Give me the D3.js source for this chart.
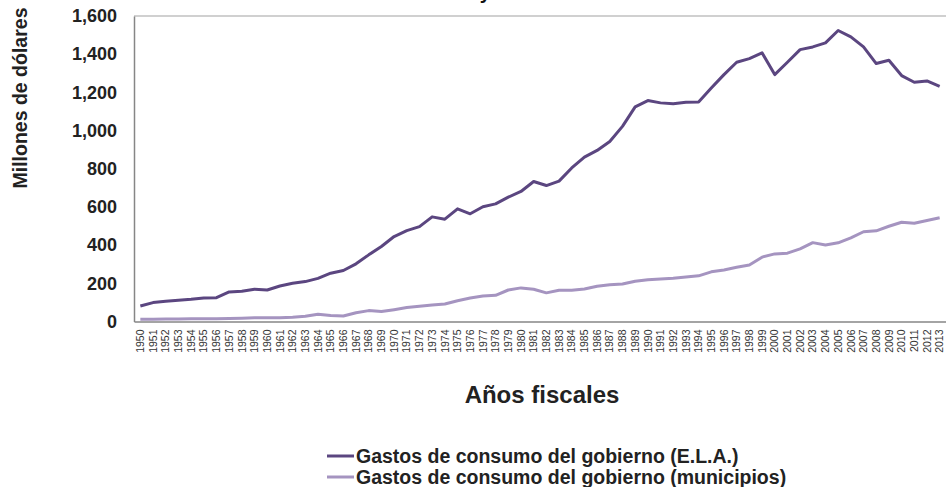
<!DOCTYPE html>
<html>
<head>
<meta charset="utf-8">
<script src="https://cdn.jsdelivr.net/npm/d3@7"></script>
<style>
body { margin: 0; background: #fff; }
text { font-family: "Liberation Sans", Arial, sans-serif; }
</style>
</head>
<body>
<script>
var w = 946;
var h = 487;

// años fiscales 1950 - 2013
var years = d3.range(1950, 2014);

var ela = [81, 99, 106, 111, 116, 123, 125, 155, 158, 169,
           165, 186, 200, 209, 226, 253, 267, 302, 349, 393,
           445, 476, 497, 548, 536, 590, 564, 601, 616, 651,
           681, 733, 712, 735, 804, 861, 896, 943, 1022, 1124,
           1157, 1145, 1141, 1148, 1150, 1223, 1293, 1358, 1377, 1407,
           1293, 1358, 1424, 1438, 1459, 1524, 1491, 1438, 1351, 1368,
           1288, 1253, 1260, 1232];

var muni = [12, 12, 13, 13, 14, 15, 15, 16, 17, 19,
            19, 20, 22, 27, 38, 31, 29, 46, 57, 52,
            62, 73, 80, 87, 92, 109, 123, 134, 137, 165,
            176, 169, 150, 164, 164, 170, 185, 193, 196, 211,
            219, 223, 227, 233, 239, 260, 270, 284, 296, 337,
            354, 358, 380, 413, 401, 412, 438, 470, 475, 499,
            520, 515, 529, 543];

var yTicks = [0, 200, 400, 600, 800, 1000, 1200, 1400, 1600];
var seriesNames = ["Gastos de consumo del gobierno (E.L.A.)",
                   "Gastos de consumo del gobierno (municipios)"];
var colors = ["#5b4680", "#a594c0"];

var pLeft = 134, pRight = 946, pTop = 16, pBottom = 321.5;

var svg = d3.select("body")
    .append("svg")
    .attr("width", w)
    .attr("height", h);

var x = d3.scaleBand()
    .domain(years)
    .range([pLeft, pRight]);

var y = d3.scaleLinear()
    .domain([0, 1600])
    .range([pBottom, pTop]);

// titulo (cortado en la parte de arriba)
svg.append("text")
    .attr("x", 491)
    .attr("y", -1)
    .attr("text-anchor", "end")
    .style("font-size", "20px")
    .style("font-weight", "bold")
    .attr("fill", "#111")
    .text("Gastos de consumo del E.L.A. y");

// linea de arriba
svg.append("line")
    .attr("x1", pLeft).attr("x2", pRight)
    .attr("y1", y(1600)).attr("y2", y(1600))
    .attr("stroke", "#c0c0c0")
    .attr("stroke-width", 1.5);

// eje y
var yAxis = svg.append("g")
    .attr("transform", "translate(" + pLeft + ",0)")
    .call(d3.axisLeft(y).tickValues(yTicks).tickSize(0).tickPadding(17)
        .tickFormat(d3.format(",")));
yAxis.select(".domain").attr("stroke", "#868686").attr("stroke-width", 1.5);
yAxis.selectAll("text")
    .style("font-size", "18px")
    .style("font-weight", "bold")
    .style("font-family", "'Liberation Sans', Arial, sans-serif")
    .attr("fill", "#222");

// eje x
var xAxis = svg.append("g")
    .attr("transform", "translate(0," + pBottom + ")")
    .call(d3.axisBottom(x).tickSize(0).tickPadding(0));
xAxis.select(".domain").attr("stroke", "#868686").attr("stroke-width", 1.5);
xAxis.selectAll("text")
    .attr("transform", "rotate(-90)")
    .attr("x", -8)
    .attr("y", 0)
    .attr("dy", "0.35em")
    .attr("text-anchor", "end")
    .style("font-size", "10.5px")
    .style("font-family", "'Liberation Sans', Arial, sans-serif")
    .attr("fill", "#333");

// lineas
var line = d3.line()
    .x(function(d, i) { return x(years[i]) + x.bandwidth() / 2; })
    .y(function(d) { return y(d); });

[muni, ela].forEach(function(s, k) {
    svg.append("path")
        .datum(s)
        .attr("d", line)
        .attr("fill", "none")
        .attr("stroke", k == 0 ? colors[1] : colors[0])
        .attr("stroke-width", 3)
        .attr("stroke-linejoin", "round");
});

// titulos de ejes
svg.append("text")
    .attr("transform", "translate(27,98) rotate(-90)")
    .attr("text-anchor", "middle")
    .style("font-size", "19.5px")
    .style("font-weight", "bold")
    .attr("fill", "#222")
    .text("Millones de dólares");

svg.append("text")
    .attr("x", 542)
    .attr("y", 403)
    .attr("text-anchor", "middle")
    .style("font-size", "24px")
    .style("font-weight", "bold")
    .attr("fill", "#222")
    .text("Años fiscales");

// leyenda
var legend = svg.selectAll(".leg")
    .data(seriesNames)
    .enter()
    .append("g")
    .attr("class", "leg")
    .attr("transform", function(d, i) { return "translate(327," + (456 + i * 21) + ")"; });
legend.append("line")
    .attr("x1", 0).attr("x2", 27)
    .attr("stroke", function(d, i) { return colors[i]; })
    .attr("stroke-width", 3);
legend.append("text")
    .attr("x", 29)
    .attr("dy", "0.35em")
    .style("font-size", "19.5px")
    .style("font-weight", "bold")
    .attr("fill", "#222")
    .text(function(d) { return d; });
</script>
</body>
</html>
